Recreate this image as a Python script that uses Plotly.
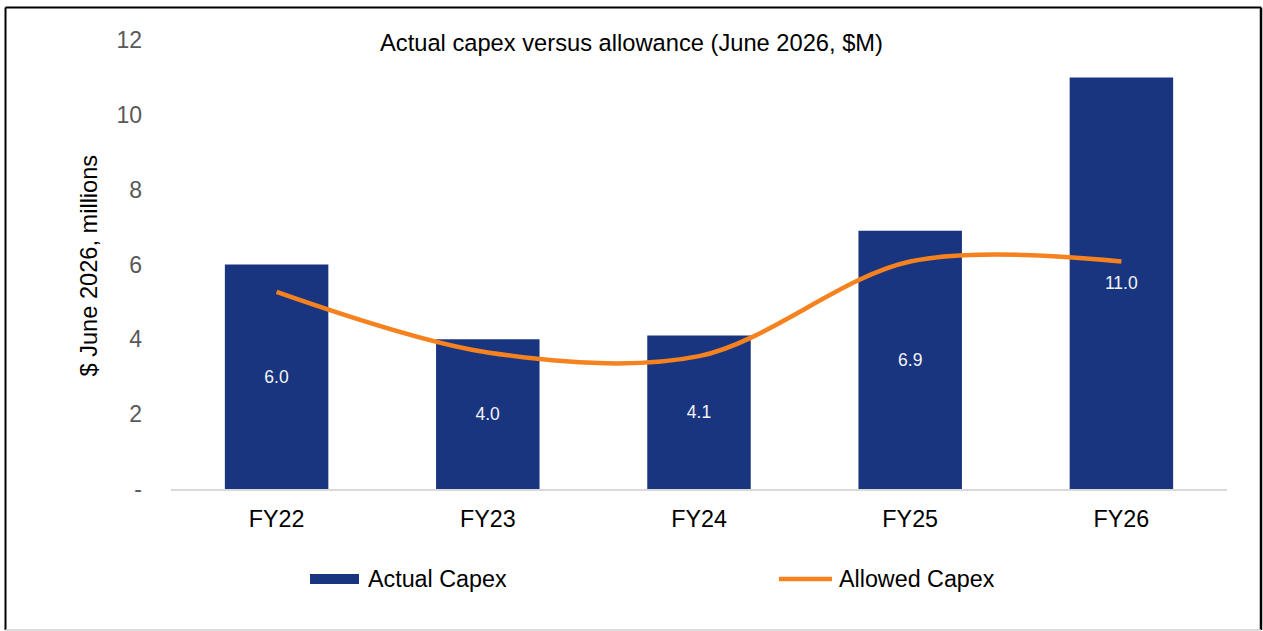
import plotly.graph_objects as go

# Chart data
categories = ["FY22", "FY23", "FY24", "FY25", "FY26"]
actual_capex = [6.0, 4.0, 4.1, 6.9, 11.0]
allowed_capex = [5.27, 3.65, 3.55, 6.08, 6.08]
bar_labels = [f"{v:.1f}" for v in actual_capex]
y_tick_vals = [0, 2, 4, 6, 8, 10, 12]
y_tick_text = ["-", "2", "4", "6", "8", "10", "12"]

W, H = 1263, 631
ML, MR, MT, MB = 171, 36, 40, 142
PW, PH = W - ML - MR, H - MT - MB

NAVY = "#1A3580"
ORANGE = "#F5821F"
FONT = "Liberation Sans, Arial, sans-serif"


def px_x(px):
    return (px - ML) / PW


def px_y(py):
    return (H - MB - py) / PH


fig = go.Figure()

fig.add_trace(go.Bar(
    x=categories, y=actual_capex, name="Actual Capex",
    marker=dict(color=NAVY, line=dict(width=0)),
    text=bar_labels, textposition="inside", insidetextanchor="middle",
    textfont=dict(color="#F4F4F4", size=17.5, family=FONT),
    textangle=0, showlegend=False,
))

fig.add_trace(go.Scatter(
    x=categories, y=allowed_capex, name="Allowed Capex", mode="lines",
    line=dict(color=ORANGE, width=4.5, shape="spline", smoothing=0.95),
    showlegend=False,
))

shapes = [
    # outer frame
    dict(type="line", xref="paper", yref="paper", x0=px_x(5.5), x1=px_x(5.5),
         y0=px_y(7.5), y1=px_y(630), line=dict(color="black", width=2)),
    dict(type="line", xref="paper", yref="paper", x0=px_x(5.5), x1=px_x(1261),
         y0=px_y(7.5), y1=px_y(7.5), line=dict(color="black", width=2)),
    dict(type="line", xref="paper", yref="paper", x0=px_x(1261), x1=px_x(1261),
         y0=px_y(7.5), y1=px_y(630), line=dict(color="black", width=2.5)),
    dict(type="line", xref="paper", yref="paper", x0=px_x(5.5), x1=px_x(1261),
         y0=px_y(630), y1=px_y(630), line=dict(color="#D0D0D0", width=1.5)),
    # legend swatches
    dict(type="rect", xref="paper", yref="paper", x0=px_x(310), x1=px_x(359),
         y0=px_y(584), y1=px_y(574), fillcolor=NAVY, line=dict(width=0)),
    dict(type="line", xref="paper", yref="paper", x0=px_x(779), x1=px_x(832),
         y0=px_y(579), y1=px_y(579), line=dict(color=ORANGE, width=4.5)),
]

annotations = [
    dict(text="$ June 2026, millions", xref="paper", yref="paper",
         x=px_x(88.5), y=px_y(266), xanchor="center", yanchor="middle",
         textangle=-90, showarrow=False, font=dict(size=23.6, color="black", family=FONT)),
    dict(text="Actual Capex", xref="paper", yref="paper",
         x=px_x(366), y=px_y(579), xanchor="left", yanchor="middle",
         showarrow=False, font=dict(size=23.3, color="black", family=FONT)),
    dict(text="Allowed Capex", xref="paper", yref="paper",
         x=px_x(837), y=px_y(579), xanchor="left", yanchor="middle",
         showarrow=False, font=dict(size=23.3, color="black", family=FONT)),
]

fig.update_layout(
    width=W, height=H,
    margin=dict(l=ML, r=MR, t=MT, b=MB, pad=0),
    paper_bgcolor="white", plot_bgcolor="white",
    bargap=0.51,
    title=dict(text="Actual capex versus allowance (June 2026, $M)",
               x=631.5 / W, xref="container", xanchor="center",
               y=1 - 43 / H, yref="container", yanchor="middle",
               font=dict(size=23.7, color="black", family=FONT)),
    shapes=shapes,
    annotations=annotations,
    font=dict(family=FONT),
)

fig.update_xaxes(
    showline=True, linecolor="#D9D9D9", linewidth=2,
    showgrid=False, ticks="", zeroline=False,
    tickfont=dict(size=23.3, color="black", family=FONT),
    ticklabelstandoff=8,
)
fig.update_yaxes(
    range=[0, 12], tickvals=y_tick_vals, ticktext=y_tick_text,
    showline=False, showgrid=False, zeroline=False, ticks="",
    tickfont=dict(size=23, color="#595959", family=FONT),
    ticklabelstandoff=28,
)

fig.write_html("out.html")
